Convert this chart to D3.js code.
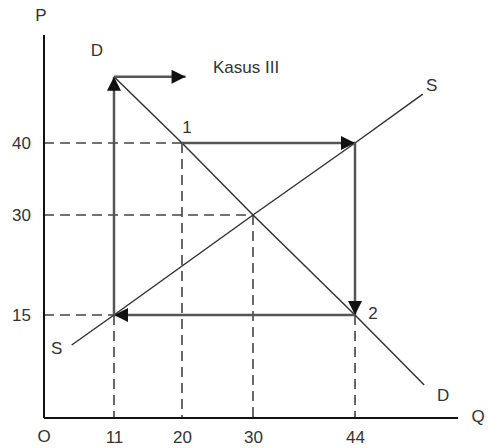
<!DOCTYPE html>
<html>
<head>
<meta charset="utf-8">
<script src="https://cdn.jsdelivr.net/npm/d3@7"></script>
<style>
  body { margin: 0; background: #fff; }
  text { font-family: "Liberation Sans", Arial, sans-serif; fill: #333; }
</style>
</head>
<body>
<div id="chart"></div>
<script>
// tick values
const qTicks = [11, 20, 30, 44];
const pTicks = [15, 30, 40];

// demand and supply curves (Q, P)
const demand = [[11, 49.2], [20, 40], [30, 30], [44, 15], [53.5, 4.5]];
const supply = [[5.4, 10.5], [11, 15], [30, 30], [44, 40], [53.3, 46.8]];

// the cobweb path with arrows: 1 -> right -> down -> left -> up
const cobweb = [
  [[20, 40], [44, 40]],
  [[44, 40], [44, 15]],
  [[44, 15], [11, 15]],
  [[11, 15], [11, 49.2]]
];
const kasusArrow = [[11, 49.2], [20.5, 49.2]];

// point labels
const labels = [
  {q: 20, p: 40, text: "1", dx: 5, dy: -14},
  {q: 44, p: 15, text: "2", dx: 18, dy: 0},
  {q: 11, p: 49.2, text: "D", dx: -17, dy: -25},
  {q: 53.3, p: 46.8, text: "S", dx: 9, dy: -8},
  {q: 5.4, p: 10.5, text: "S", dx: -15, dy: 5},
  {q: 53.5, p: 4.5, text: "D", dx: 19, dy: 12}
];

const width = 488, height = 448;
const fontSize = "17px";
const svg = d3.select("#chart").append("svg")
  .attr("width", width)
  .attr("height", height);

// the picture's grid is not evenly spaced, so use a piecewise scale
const x = d3.scaleLinear().domain(qTicks).range([114, 182, 253, 355]);
const y = d3.scaleLinear().domain(pTicks).range([315, 215, 143]);

const originX = 44, originY = 418;

// arrow marker
svg.append("defs").append("marker")
  .attr("id", "arrow")
  .attr("viewBox", "0 0 10 10")
  .attr("refX", 10).attr("refY", 5)
  .attr("markerWidth", 16).attr("markerHeight", 14)
  .attr("markerUnits", "userSpaceOnUse")
  .attr("orient", "auto")
  .append("path")
  .attr("d", "M0,0 L10,5 L0,10 Z")
  .attr("fill", "#111");

// dashed guide lines
const dash = "10,6";
const guides = [];
pTicks.forEach(p => {
  const qEnd = {15: 11, 30: 30, 40: 20}[p];
  guides.push([originX, y(p), x(qEnd), y(p)]);
});
qTicks.forEach(q => {
  const pTop = {11: 15, 20: 40, 30: 30, 44: 15}[q];
  guides.push([x(q), y(pTop), x(q), originY]);
});
svg.selectAll(".guide").data(guides).join("line")
  .attr("class", "guide")
  .attr("x1", d => d[0]).attr("y1", d => d[1])
  .attr("x2", d => d[2]).attr("y2", d => d[3])
  .attr("stroke", "#444")
  .attr("stroke-width", 1.6)
  .attr("stroke-dasharray", dash);

// axes lines
svg.append("line")
  .attr("x1", originX).attr("y1", 35)
  .attr("x2", originX).attr("y2", originY)
  .attr("stroke", "#111").attr("stroke-width", 2);
svg.append("line")
  .attr("x1", originX).attr("y1", originY)
  .attr("x2", 458).attr("y2", originY)
  .attr("stroke", "#111").attr("stroke-width", 2);

// tick labels via d3 axes
const xAxis = svg.append("g")
  .attr("transform", `translate(0,${originY})`)
  .call(d3.axisBottom(x).tickValues(qTicks).tickSize(0).tickPadding(13));
const yAxis = svg.append("g")
  .attr("transform", `translate(${originX},0)`)
  .call(d3.axisLeft(y).tickValues(pTicks).tickSize(0).tickPadding(13));
[xAxis, yAxis].forEach(g => {
  g.select(".domain").remove();
  g.selectAll("text")
    .style("font-family", '"Liberation Sans", Arial, sans-serif')
    .style("font-size", fontSize)
    .attr("fill", "#333");
});

// curves
const line = d3.line().x(d => x(d[0])).y(d => y(d[1]));
svg.append("path").attr("d", line(demand))
  .attr("fill", "none").attr("stroke", "#333").attr("stroke-width", 1.5);
svg.append("path").attr("d", line(supply))
  .attr("fill", "none").attr("stroke", "#333").attr("stroke-width", 1.5);

// cobweb arrows
svg.selectAll(".step").data(cobweb.concat([kasusArrow])).join("path")
  .attr("class", "step")
  .attr("d", d => line(d))
  .attr("fill", "none")
  .attr("stroke", "#555")
  .attr("stroke-width", 2.5)
  .attr("marker-end", "url(#arrow)");

// point labels
svg.selectAll(".lbl").data(labels).join("text")
  .attr("class", "lbl")
  .attr("x", d => x(d.q) + d.dx)
  .attr("y", d => y(d.p) + d.dy)
  .attr("text-anchor", "middle")
  .attr("dominant-baseline", "middle")
  .style("font-size", fontSize)
  .text(d => d.text);

// axis names and title
svg.append("text").attr("x", 41).attr("y", 17)
  .attr("text-anchor", "middle").attr("dominant-baseline", "middle")
  .style("font-size", fontSize).text("P");
svg.append("text").attr("x", 478).attr("y", 418)
  .attr("text-anchor", "middle").attr("dominant-baseline", "middle")
  .style("font-size", fontSize).text("Q");
svg.append("text").attr("x", 44).attr("y", 438)
  .attr("text-anchor", "middle").attr("dominant-baseline", "middle")
  .style("font-size", fontSize).text("O");
svg.append("text").attr("x", 213).attr("y", 69)
  .attr("dominant-baseline", "middle")
  .style("font-size", "17px").text("Kasus III");
</script>
</body>
</html>
